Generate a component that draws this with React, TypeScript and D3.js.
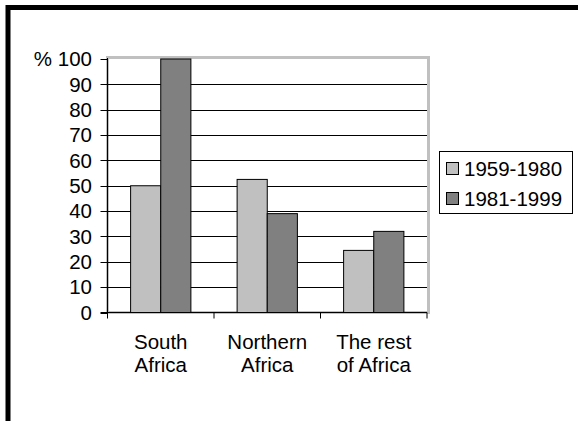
import React from "react";
import * as d3 from "d3";

const categories: string[][] = [["South", "Africa"], ["Northern", "Africa"], ["The rest", "of Africa"]];
const categoryKeys = ["South Africa", "Northern Africa", "The rest of Africa"];
const seriesNames = ["1959-1980", "1981-1999"];
const series1959 = [50, 52.5, 24.5];
const series1981 = [100, 39, 32];
const seriesColors = ["#c0c0c0", "#808080"];
const yTicks = [0, 10, 20, 30, 40, 50, 60, 70, 80, 90, 100];

export default function App() {
  const W = 578, H = 421;
  const left = 107.5, right = 427, top = 59, bottom = 312.5;
  const y = d3.scaleLinear().domain([0, 100]).range([bottom, top]);
  const x0 = d3.scaleBand<string>().domain(categoryKeys).range([left, right]).padding(0);
  const bw = x0.bandwidth();
  const barW = bw * 0.283;
  const x1 = d3.scaleBand<string>().domain(seriesNames).range([bw / 2 - barW, bw / 2 + barW]).padding(0);
  const values = [series1959, series1981];
  const font = "'Liberation Sans', Arial, sans-serif";

  return (
    <svg width={W} height={H} style={{ position: "absolute", left: 0, top: 0, background: "#fff" }} fontFamily={font}>
      <rect x={0} y={0} width={W} height={H} fill="#fff" />
      {/* outer frame */}
      <line x1={8} y1={7.5} x2={W} y2={7.5} stroke="#000" strokeWidth={5} />
      <line x1={8} y1={5} x2={8} y2={H} stroke="#000" strokeWidth={5} />
      {/* plot frame */}
      <rect x={left} y={top - 1.5} width={right - left + 1.5} height={bottom - top + 1.5} fill="none" stroke="#c0c0c0" strokeWidth={3} />
      {/* gridlines and ticks */}
      {yTicks.map((t) => (
        <g key={t}>
          {t !== 0 && t !== 100 && (
            <line x1={left} x2={right} y1={Math.round(y(t)) + 0.5} y2={Math.round(y(t)) + 0.5} stroke="#000" strokeWidth={1} />
          )}
          <line x1={left - 7} x2={left} y1={Math.round(y(t)) + 0.5} y2={Math.round(y(t)) + 0.5} stroke="#000" strokeWidth={1} />
          <text x={92} y={y(t)} dy="0.35em" textAnchor="end" fontSize={20.5} fill="#000">
            {t === 100 ? "% 100" : String(t)}
          </text>
        </g>
      ))}
      {/* bars */}
      {categoryKeys.map((c, i) => (
        <g key={c} transform={`translate(${x0(c)},0)`}>
          {seriesNames.map((s, j) => (
            <rect
              key={s}
              x={x1(s)}
              y={y(values[j][i])}
              width={x1.bandwidth()}
              height={bottom - y(values[j][i])}
              fill={seriesColors[j]}
              stroke="#000"
              strokeWidth={1}
            />
          ))}
        </g>
      ))}
      {/* axes */}
      <line x1={left} x2={left} y1={top - 1} y2={bottom} stroke="#000" strokeWidth={1} />
      <line x1={left - 7} x2={right} y1={bottom} y2={bottom} stroke="#000" strokeWidth={1} />
      {[...categoryKeys.map((c) => x0(c) as number), right].map((xv, i) => (
        <line key={i} x1={xv} x2={xv} y1={bottom} y2={bottom + 6} stroke="#000" strokeWidth={1} />
      ))}
      {/* category labels */}
      {categoryKeys.map((c, i) => (
        <text key={c} x={(x0(c) as number) + bw / 2} textAnchor="middle" fontSize={20.5} fill="#000">
          <tspan x={(x0(c) as number) + bw / 2} y={349}>{categories[i][0]}</tspan>
          <tspan x={(x0(c) as number) + bw / 2} y={372}>{categories[i][1]}</tspan>
        </text>
      ))}
      {/* legend */}
      <rect x={439.5} y={151.5} width={133} height={62} fill="#fff" stroke="#000" strokeWidth={1} />
      {seriesNames.map((s, j) => (
        <g key={s}>
          <rect x={446.5} y={162.5 + j * 30} width={12} height={12} fill={seriesColors[j]} stroke="#000" strokeWidth={1} />
          <text x={464} y={168.5 + j * 30} dy="0.35em" fontSize={20.5} fill="#000">{s}</text>
        </g>
      ))}
    </svg>
  );
}
